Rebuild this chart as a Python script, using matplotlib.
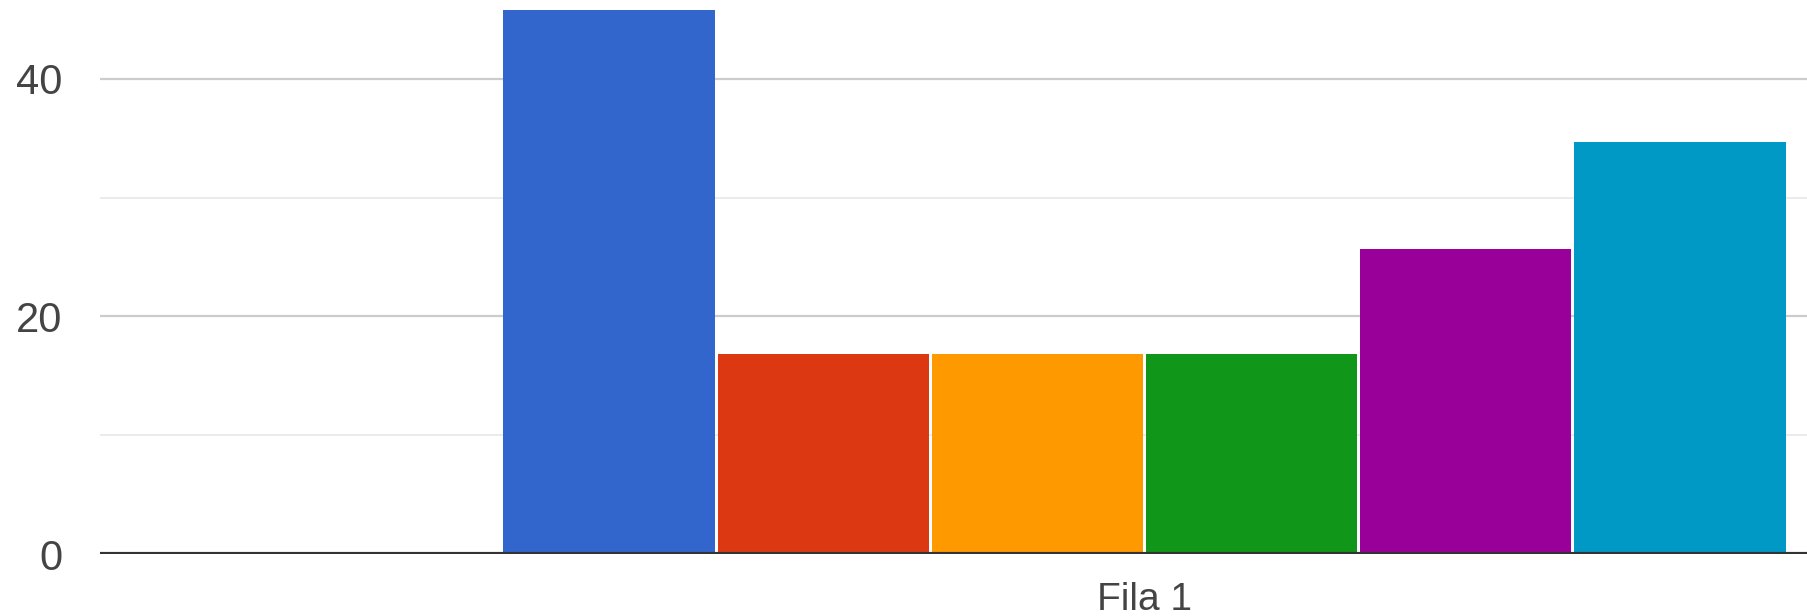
import matplotlib.pyplot as plt
from matplotlib.ticker import MultipleLocator

# one row ("Fila 1") split into six answer options
category = "Fila 1"
values = [50, 16.8, 16.8, 16.8, 25.7, 34.7]
colors = ["#3366cc", "#dc3912", "#ff9900", "#109618", "#990099", "#0099c6"]
y_ticks = [0, 20, 40]

plt.rcParams["font.family"] = ["Liberation Sans", "DejaVu Sans"]

fig = plt.figure(figsize=(18.08, 6.16), dpi=100)
ax = fig.add_axes([100 / 1808, 62 / 616, 1708 / 1808, 544 / 616])

n = len(values)
offsets = [i - (n - 1) / 2 for i in range(n)]
ax.bar(offsets, values, width=0.986, color=colors, edgecolor=colors,
       linewidth=0, zorder=3)

ax.set_xlim(-4.876, 3.098)
ax.set_ylim(0, 45.81)

ax.set_xticks([0])
ax.set_xticklabels([category])
ax.set_yticks(y_ticks)
ax.yaxis.set_minor_locator(MultipleLocator(10))

ax.grid(axis="y", which="major", color="#cccccc", linewidth=1.6, zorder=0)
ax.grid(axis="y", which="minor", color="#ebebeb", linewidth=1.4, zorder=0)
ax.axhline(0, color="#333333", linewidth=3, zorder=4)

for side in ["top", "right", "left", "bottom"]:
    ax.spines[side].set_visible(False)

ax.tick_params(axis="both", which="both", length=0, colors="#444444")
ax.tick_params(axis="y", labelsize=30, pad=27)
ax.tick_params(axis="x", labelsize=28, pad=20)

fig.savefig("out.png", dpi=100)
